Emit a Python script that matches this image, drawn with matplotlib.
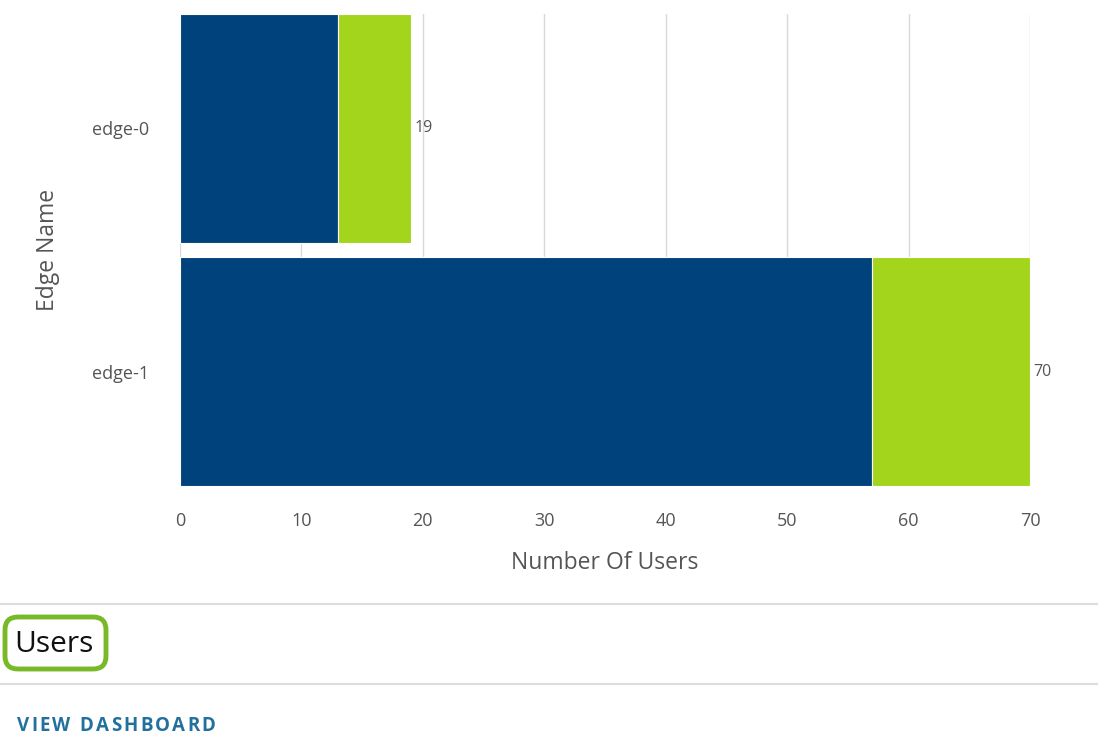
import matplotlib.pyplot as plt
from matplotlib.patches import FancyBboxPatch

plt.rcParams['font.family'] = ['Open Sans', 'DejaVu Sans']

edges = ['edge-0', 'edge-1']
blue_vals = [13, 57]
green_vals = [6, 13]
totals = [b + g for b, g in zip(blue_vals, green_vals)]
xticks = [0, 10, 20, 30, 40, 50, 60, 70]

fig = plt.figure(figsize=(10.98, 7.52), dpi=100)
ax = fig.add_axes([180 / 1098, 1 - 486 / 752, 850 / 1098, 472 / 752])

pos = list(range(len(edges)))
h = 0.94
ax.barh(pos, blue_vals, height=h, color='#00427c', edgecolor='white', linewidth=0.8, zorder=3)
ax.barh(pos, green_vals, left=blue_vals, height=h, color='#a3d51d', edgecolor='white', linewidth=0.8, zorder=3)
for p, t in zip(pos, totals):
    ax.text(t + 0.3, p, str(t), va='center', ha='left', fontsize=11.5, color='#555555')

ax.set_xlim(0, 70)
ax.set_ylim(len(edges) - 1 + h / 2, -h / 2)
ax.set_xticks(xticks)
ax.set_yticks(pos)
ax.set_yticklabels(edges)
ax.grid(axis='x', color='#d9d9d9', linewidth=1, zorder=0)
for s in ax.spines.values():
    s.set_visible(False)
ax.tick_params(length=0, labelsize=13, labelcolor='#555555')
ax.tick_params(axis='x', pad=19)
ax.tick_params(axis='y', pad=22)
ax.set_xlabel('Number Of Users', fontsize=16.5, color='#555555', labelpad=15)
ax.set_ylabel('Edge Name', fontsize=16.5, color='#555555', labelpad=23)

# card footer
fig.add_artist(plt.Line2D([0, 1], [1 - 604 / 752] * 2, color='#dddddd', linewidth=1.5))
fig.add_artist(plt.Line2D([0, 1], [1 - 684 / 752] * 2, color='#dddddd', linewidth=1.5))
fig.text(14 / 1098, 1 - 644 / 752, 'Users', fontsize=21.5, color='#111111', va='center', ha='left')
box = FancyBboxPatch((0.05, 0.83), 1.01, 0.52,
                     boxstyle='round,pad=0,rounding_size=0.13', transform=fig.dpi_scale_trans,
                     fill=False, edgecolor='#78b928', linewidth=3.5)
fig.add_artist(box)

# letter-spaced link text
renderer = fig.canvas.get_renderer()
x = 17
for ch in 'VIEW DASHBOARD':
    t = fig.text(x / 1098, 1 - 726 / 752, ch, fontsize=13.5, fontweight='bold',
                 color='#22709e', va='center', ha='left')
    w = t.get_window_extent(renderer).width if ch != ' ' else 5
    x += w + 2.2

fig.savefig('out.png', dpi=100)
